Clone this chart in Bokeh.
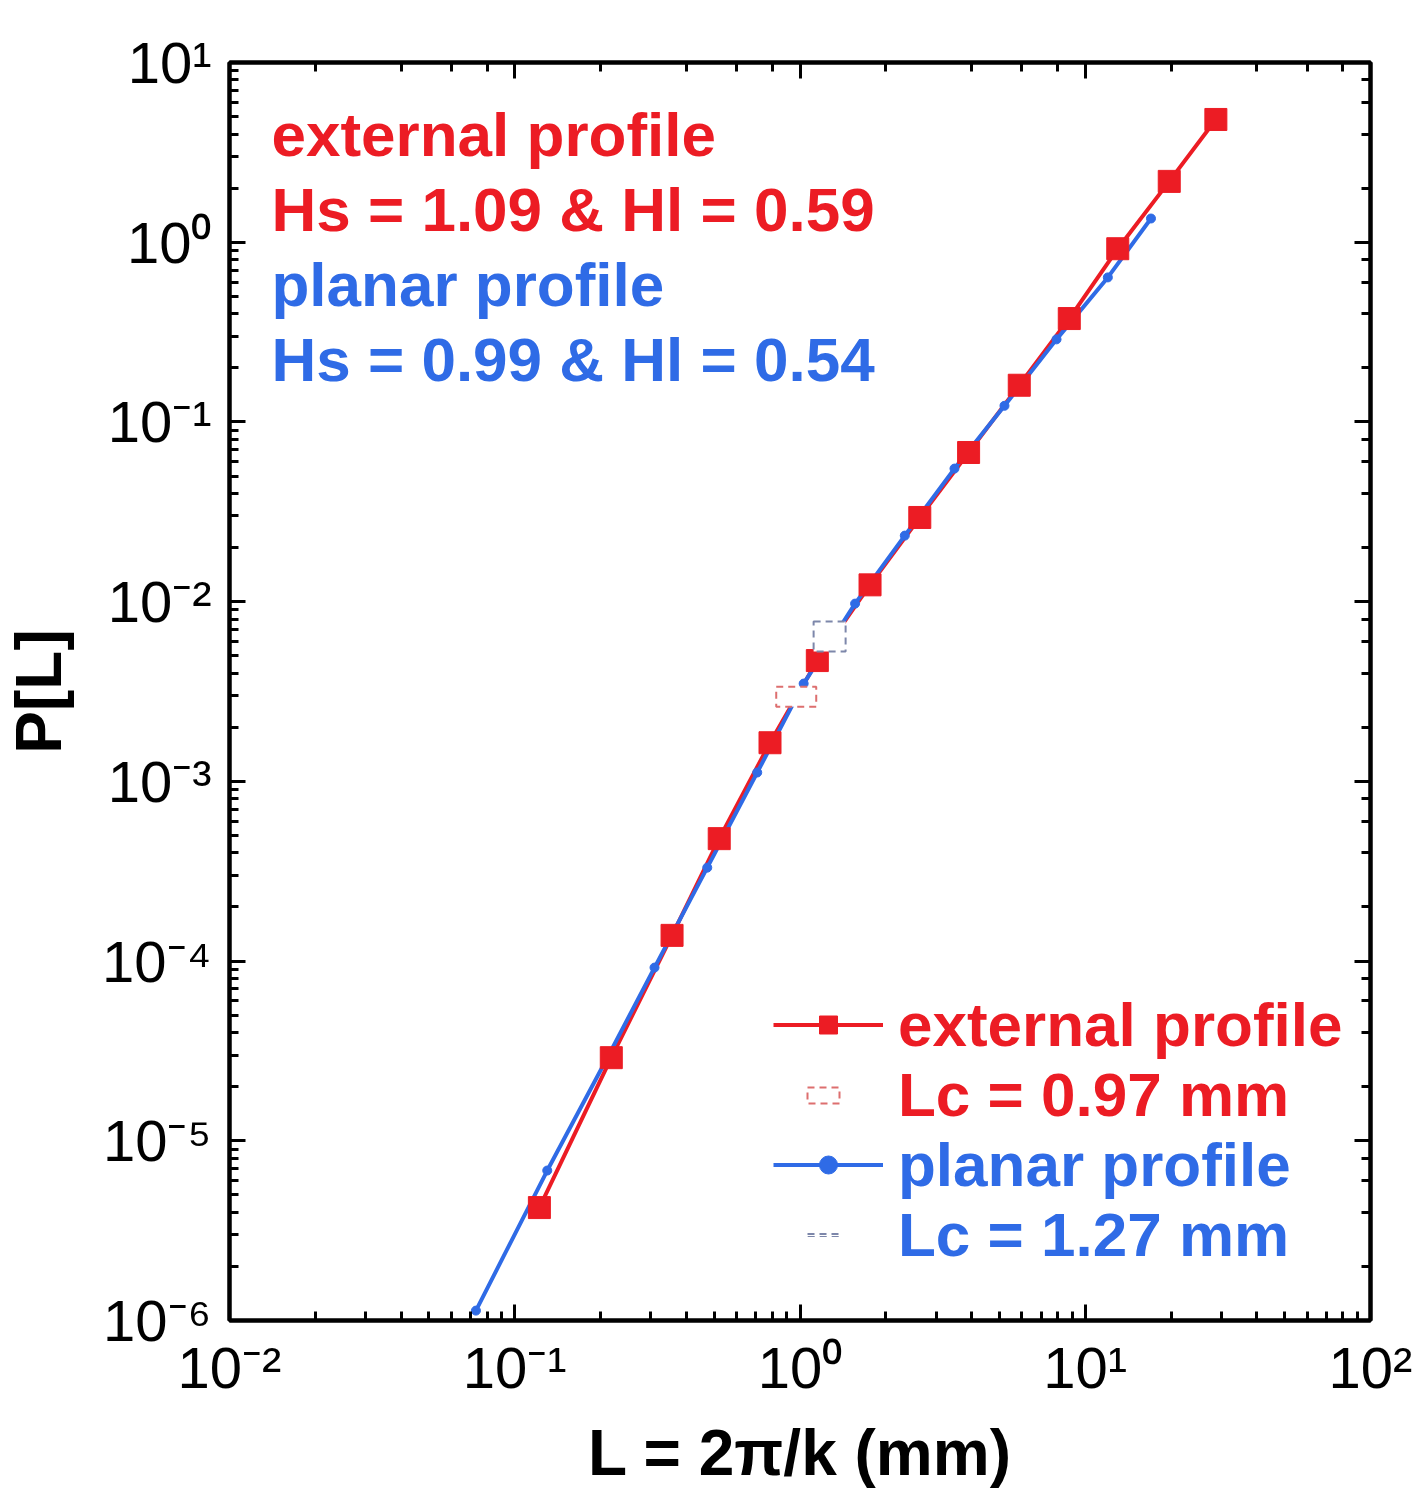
from bokeh.plotting import figure
from bokeh.models import (Range1d, LogAxis, LogTicker, CustomJSTickFormatter,
                          Legend, LegendItem, Label)
from bokeh.embed import file_html
from bokeh.resources import INLINE

# ---- data ----
ext_L = [0.122, 0.218, 0.356, 0.521, 0.785, 1.15, 1.76, 2.63, 3.90, 5.87, 8.79, 13.0, 19.7, 28.7]
ext_P = [4.25e-6, 2.9e-5, 1.39e-4, 4.8e-4, 1.64e-3, 4.7e-3, 0.0124, 0.0294, 0.0676, 0.160, 0.376, 0.92, 2.18, 4.82]

pla_L = [0.0731, 0.130, 0.215, 0.309, 0.473, 0.708, 1.03, 1.56, 2.33, 3.48, 5.21, 7.93, 12.0, 17.0]
pla_P = [1.135e-6, 6.83e-6, 3.06e-5, 9.2e-5, 3.31e-4, 1.12e-3, 3.50e-3, 9.75e-3, 0.0233, 0.055, 0.123, 0.288, 0.637, 1.355]

Lc_ext = [0.97]
Pc_ext = [2.96e-3]
Lc_pla = [1.27]
Pc_pla = [6.4e-3]

RED = "#ec1c24"
BLUE = "#2f6be6"
FONT = "Liberation Sans"

p = figure(width=1419, height=1493, x_axis_type="log", y_axis_type="log",
           x_range=Range1d(0.01, 100), y_range=Range1d(1e-6, 10),
           output_backend="svg", toolbar_location=None,
           min_border_left=226, min_border_right=49, min_border_top=62, min_border_bottom=173,
           background_fill_color="white", border_fill_color="white")
p.xgrid.visible = False
p.ygrid.visible = False
p.outline_line_color = "black"
p.outline_line_width = 4

sup_code = """
const sup = {"-":"⁻","0":"⁰","1":"¹","2":"²","3":"³","4":"⁴","5":"⁵","6":"⁶","7":"⁷","8":"⁸","9":"⁹"};
const e = Math.round(Math.log10(tick));
return "10" + String(e).split("").map(c => sup[c]).join("");
"""

def style_axis(ax):
    ax.axis_line_width = 4
    ax.axis_line_color = "black"
    ax.major_tick_in = 16
    ax.major_tick_out = 0
    ax.minor_tick_in = 9
    ax.minor_tick_out = 0
    ax.major_tick_line_width = 3
    ax.minor_tick_line_width = 3
    ax.major_tick_line_color = "black"
    ax.minor_tick_line_color = "black"

for ax in (p.xaxis[0], p.yaxis[0]):
    style_axis(ax)
    ax.formatter = CustomJSTickFormatter(code=sup_code)
    ax.major_label_text_font = FONT
    ax.major_label_text_font_size = "58px"
    ax.major_label_text_color = "black"
    ax.axis_label_text_font = FONT
    ax.axis_label_text_font_style = "bold"
    ax.axis_label_text_font_size = "64px"
    ax.axis_label_text_color = "black"

p.xaxis[0].major_label_standoff = 14
p.xaxis[0].axis_label_standoff = 14
p.yaxis[0].major_label_standoff = 18
p.yaxis[0].axis_label_standoff = 24

p.xaxis[0].axis_label = "L = 2π/k (mm)"
p.yaxis[0].axis_label = "P[L]"
p.yaxis[0].major_label_orientation = "horizontal"

for side in ("above", "right"):
    ax = LogAxis(ticker=LogTicker(), formatter=CustomJSTickFormatter(code="return ''"))
    style_axis(ax)
    ax.major_label_text_font_size = "1px"
    p.add_layout(ax, side)

# ---- series ----
r_ext_line = p.line(ext_L, ext_P, line_color=RED, line_width=4)
r_pla_line = p.line(pla_L, pla_P, line_color=BLUE, line_width=4)
r_pla_mark = p.scatter(pla_L, pla_P, marker="circle", size=9, fill_color=BLUE, line_color=BLUE)
r_ext_mark = p.scatter(ext_L, ext_P, marker="square", size=22, fill_color=RED, line_color=RED)

r_lc_ext = p.rect(Lc_ext, Pc_ext, width=40, height=20, width_units="screen", height_units="screen",
                  fill_color="white", line_color="#dd6f6f", line_dash="7 5", line_width=2)
r_lc_pla = p.rect(Lc_pla, Pc_pla, width=32, height=30, width_units="screen", height_units="screen",
                  fill_color="white", line_color="#7d87aa", line_dash="7 5", line_width=2)

# ---- text block top-left ----
texts = [("external profile", RED, 1186),
         ("Hs = 1.09 & Hl = 0.59", RED, 1111),
         ("planar profile", BLUE, 1036),
         ("Hs = 0.99 & Hl = 0.54", BLUE, 961)]
for t, c, yy in texts:
    p.add_layout(Label(x=42, y=yy, x_units="screen", y_units="screen", text=t,
                       text_font=FONT, text_font_style="bold", text_font_size="62px",
                       text_color=c, text_baseline="alphabetic"))

# ---- legend (one per row so each label has its own colour) ----
def mk_legend(label, renderers, color, loc, gw, gh, standoff):
    lg = Legend(items=[LegendItem(label=label, renderers=renderers)], location=loc,
                border_line_alpha=0, background_fill_alpha=0, padding=0, margin=0, spacing=0,
                glyph_width=gw, glyph_height=gh, label_standoff=standoff,
                label_text_font=FONT, label_text_font_style="bold", label_text_font_size="62px",
                label_text_color=color, label_height=70)
    p.add_layout(lg, "center")

mk_legend("external profile", [r_ext_line, r_ext_mark], RED, (544, 260), 110, 45, 15)
mk_legend("Lc = 0.97 mm", [r_lc_ext], RED, (574, 190), 40, 20, 55)
mk_legend("planar profile", [r_pla_line, r_pla_mark], BLUE, (544, 120), 110, 45, 15)
mk_legend("Lc = 1.27 mm", [r_lc_pla], BLUE, (574, 50), 40, 4, 55)

open("out.html", "w").write(file_html(p, INLINE))
